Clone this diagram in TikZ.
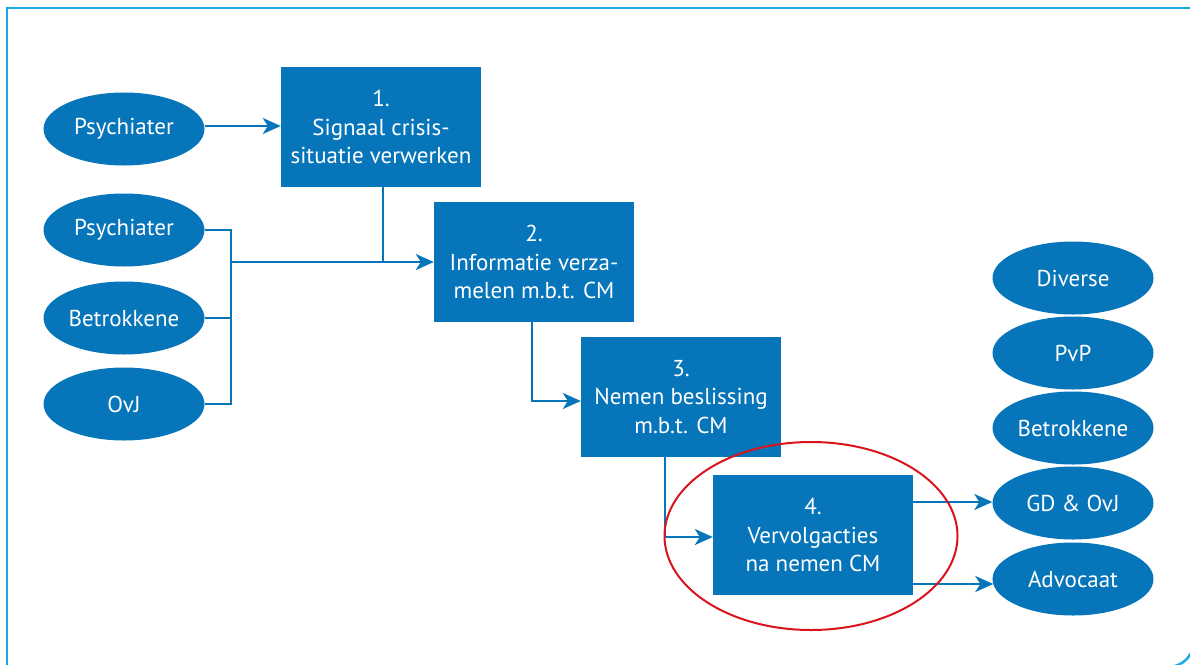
\documentclass[tikz,border=0pt]{standalone}
\usepackage{fontspec}
\setmainfont{PT Sans}
\usetikzlibrary{shapes.geometric,arrows.meta,calc}
\definecolor{dblue}{RGB}{7,117,186}
\definecolor{fcyan}{RGB}{27,169,225}
\definecolor{hred}{RGB}{218,20,28}
\begin{document}
\begin{tikzpicture}[x=1pt,y=-1pt,
  oval/.style={ellipse,fill=dblue,text=white,minimum width=161pt,minimum height=73pt,inner sep=0pt,font=\fontsize{23}{28}\selectfont},
  stepbox/.style={rectangle,fill=dblue,text=white,minimum width=200pt,minimum height=120pt,inner sep=0pt,align=center,font=\fontsize{23}{28.5}\selectfont},
  conn/.style={draw=dblue,line width=2pt},
  arr/.style={conn,-{Stealth[length=18pt,width=16pt,inset=5pt]}}]
\useasboundingbox (0,0) rectangle (1190,664);
\fill[white] (0,0) rectangle (1190,664);
% frame
\draw[fcyan,line width=2.5pt] (7,720) -- (7,8) -- (1200,8);
\draw[fcyan,line width=2.5pt,rounded corners=26pt] (1194,560) -- (1194,667) -- (1100,667);
% left ovals
\node[oval] (p1) at (124,129) {Psychiater};
\node[oval] (p2) at (124,230) {Psychiater};
\node[oval] (b1) at (124,318) {Betrokkene};
\node[oval] (o1) at (124,404) {OvJ};
% boxes
\node[stepbox] (s1) at (381,127) {1.\\Signaal crisis-\\situatie verwerken};
\node[stepbox] (s2) at (534,262) {2.\\Informatie verza-\\melen m.b.t. CM};
\node[stepbox] (s3) at (681,397) {3.\\Nemen beslissing\\m.b.t. CM};
\node[stepbox] (s4) at (813,535) {4.\\Vervolgacties\\na nemen CM};
% right ovals
\node[oval] (r1) at (1073,278) {Diverse};
\node[oval] (r2) at (1073,353) {PvP};
\node[oval] (r3) at (1073,428) {Betrokkene};
\node[oval] (r4) at (1073,503) {GD \& OvJ};
\node[oval] (r5) at (1073,579) {Advocaat};
% coordinates
\coordinate (bus) at (231,262);
\coordinate (j1) at (383,262);
% connectors
\draw[arr] (p1.east |- 0,126) -- (s1.west |- 0,126);
\draw[conn] (p2.east) -- (231,230) -- (231,404) -- (o1.east);
\draw[conn] (b1.east) -- (231,318);
\draw[arr] (bus) -- (s2.west |- bus);
\draw[conn] (s1.south -| j1) -- (j1);
\draw[arr] (s2.south -| 532,0) -- (532,401) -- (s3.west |- 0,401);
\draw[arr] (s3.south -| 665,0) -- (665,537) -- (s4.west |- 0,537);
\draw[arr] (s4.east |- 0,502) -- (r4.west |- 0,502);
\draw[arr] (s4.east |- 0,584) -- ($(r5.west)+(1,5)$);
% highlight
\node[draw=hred,line width=2pt,ellipse,minimum width=293pt,minimum height=188pt,inner sep=0pt] (hl) at (811,536) {};
\end{tikzpicture}
\end{document}
